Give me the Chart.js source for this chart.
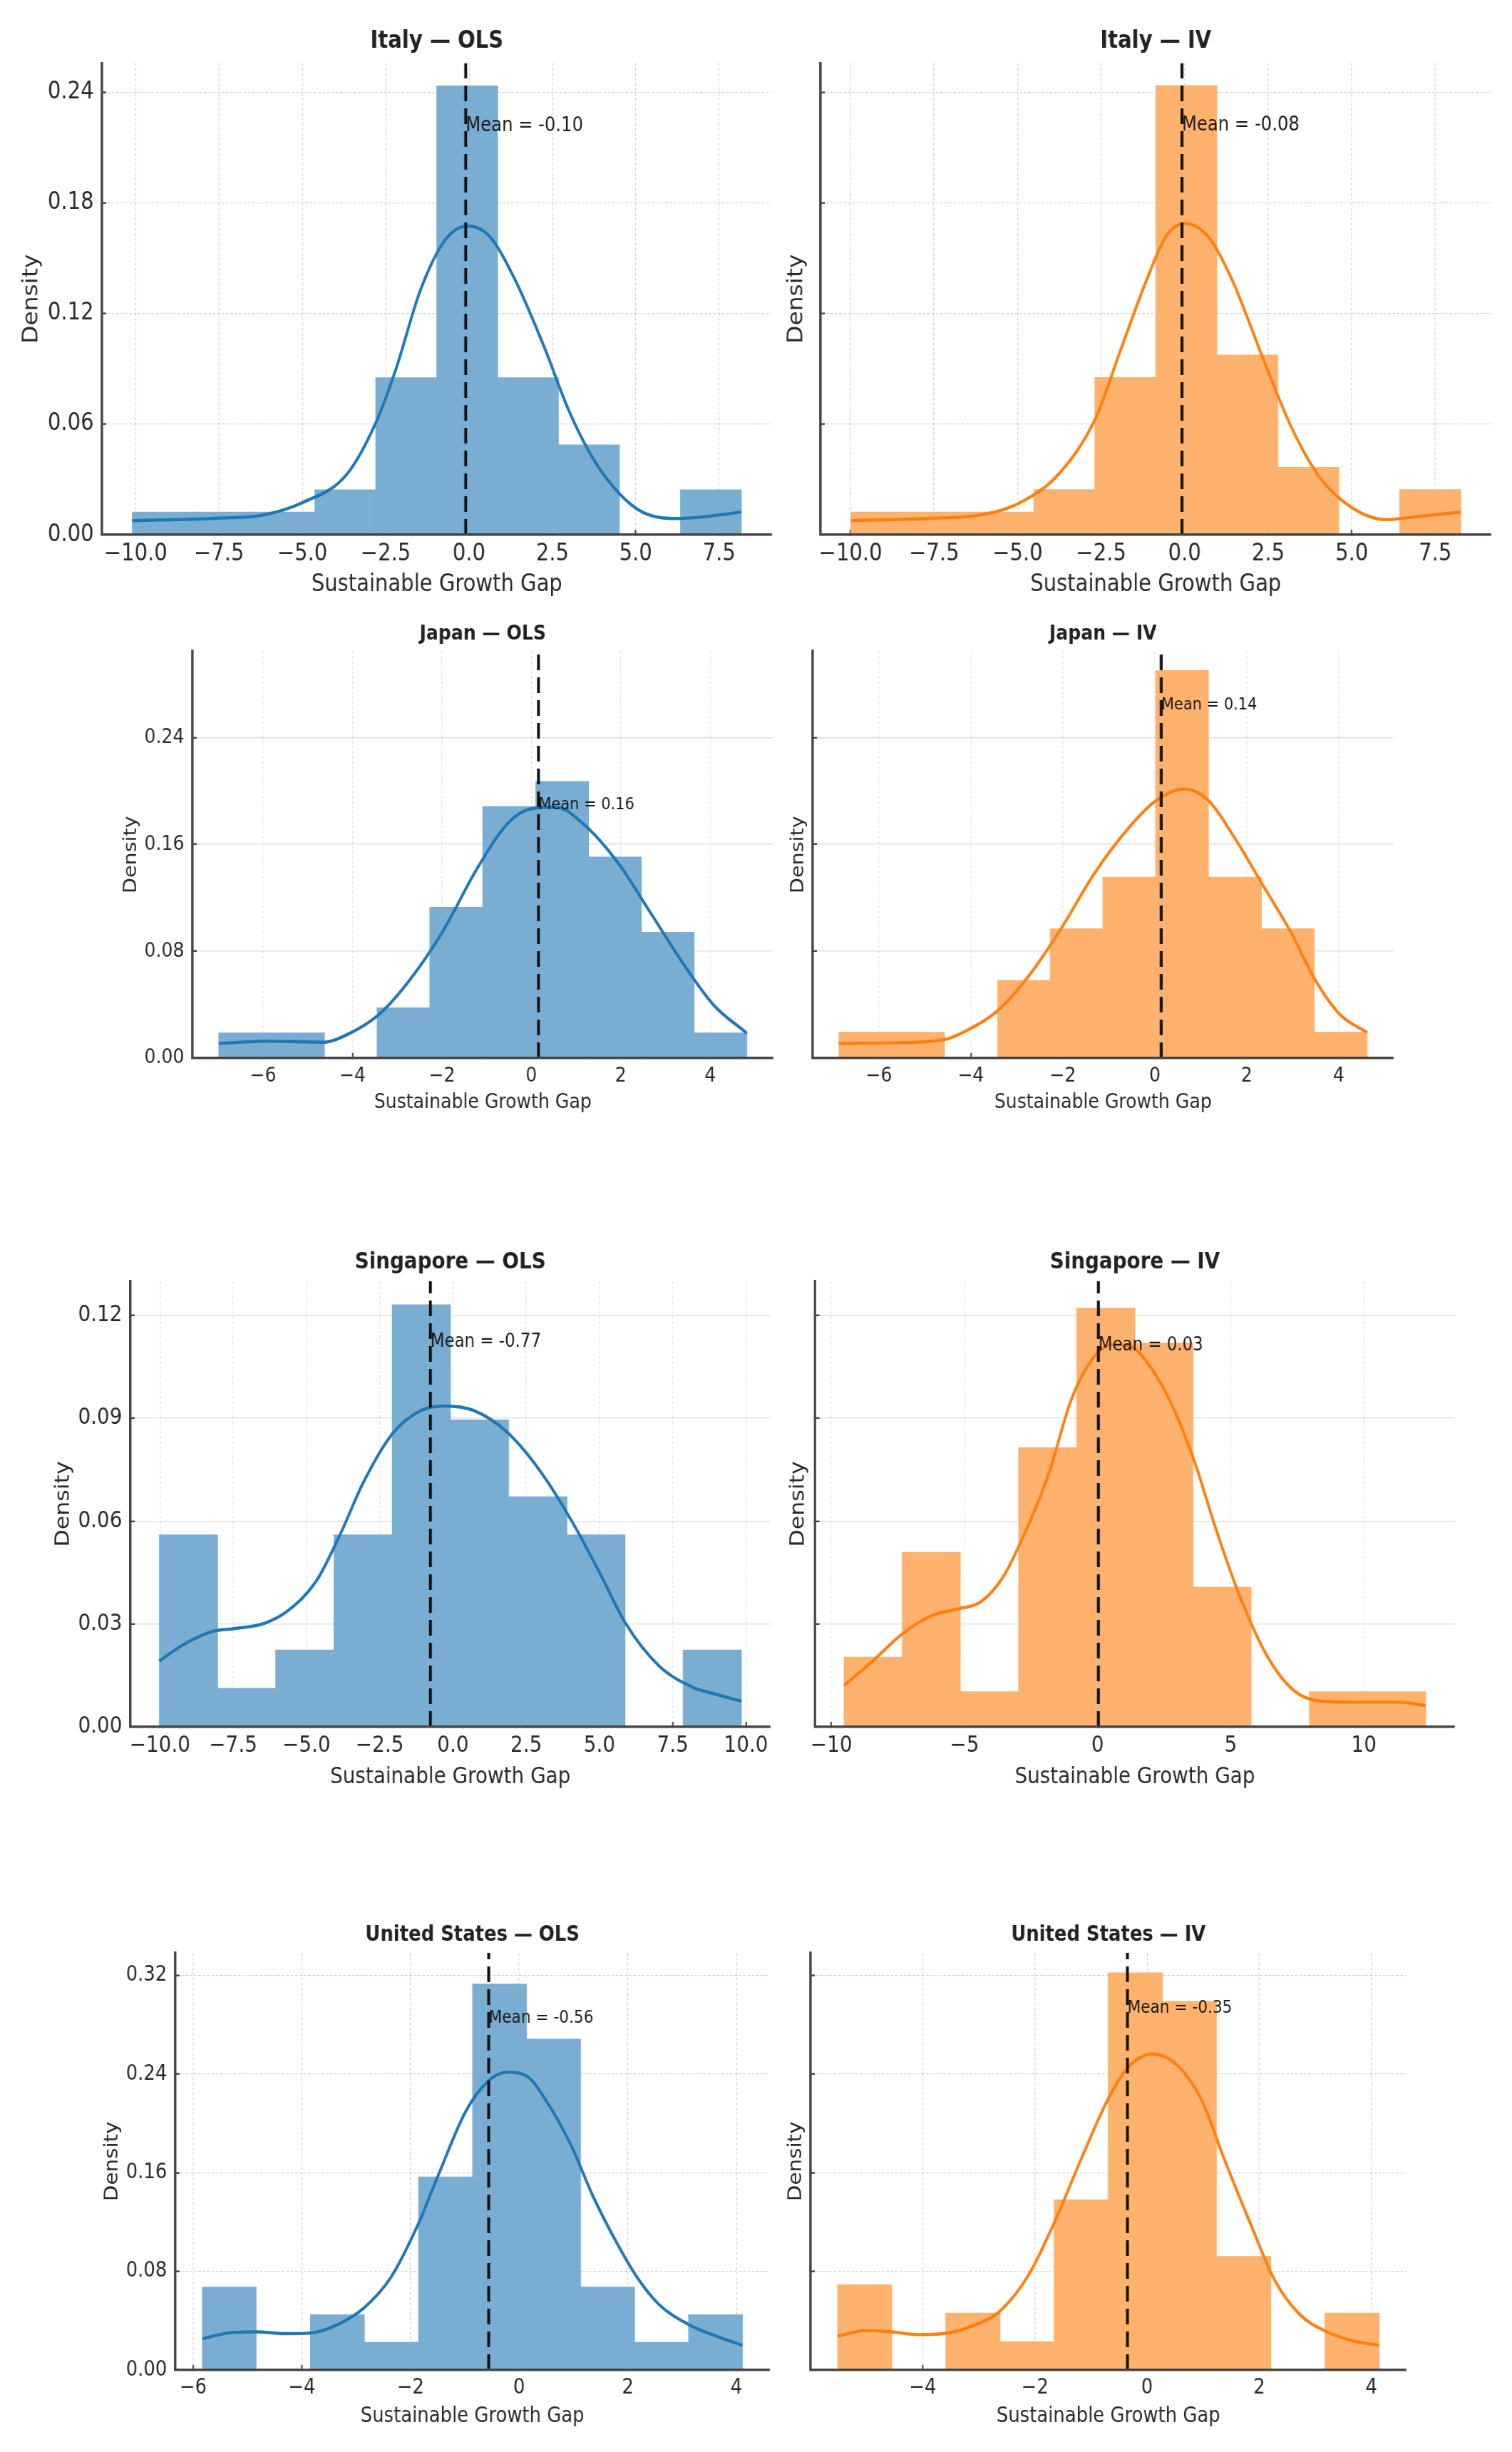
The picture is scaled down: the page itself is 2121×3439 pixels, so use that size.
<!DOCTYPE html>
<html>
<head>
<meta charset="utf-8">
<title>Sustainable Growth Gap distributions</title>
<script src="https://cdn.jsdelivr.net/npm/chart.js@4.4.1/dist/chart.umd.min.js"></script>
<style>
  html, body { margin: 0; padding: 0; background: #fff; }
  #page { position: relative; width: 2121px; height: 3439px; overflow: hidden; background: #fff; }
  #page canvas { position: absolute; }
</style>
</head>
<body>
<div id="page"></div>
<script>
/* ---------- data: histogram bin edges / densities, KDE ---------- */
const italyOlsEdges = [-10.10, -8.27, -6.45, -4.62, -2.80, -0.97, 0.86, 2.68, 4.51, 6.34, 8.17];
const italyOlsDensity = [0.0122, 0.0122, 0.0122, 0.0243, 0.0851, 0.2433, 0.0851, 0.0487, 0, 0.0243];
const italyOlsKdeX = [-10.10, -7.50, -6.20, -5.00, -3.67, -2.78, -2.19, -1.45, -0.71, -0.04, 0.62, 1.36, 2.25, 2.99, 3.73, 4.50, 5.20, 6.24, 6.98, 8.17];
const italyOlsKdeY = [0.0076, 0.0090, 0.0106, 0.0174, 0.0327, 0.0614, 0.0900, 0.1330, 0.1600, 0.1674, 0.1617, 0.1390, 0.1020, 0.0675, 0.0410, 0.0225, 0.0123, 0.0088, 0.0096, 0.0123];
const italyOlsMean = -0.10;

const italyIvEdges = [-9.99, -8.16, -6.34, -4.51, -2.69, -0.86, 0.96, 2.79, 4.61, 6.44, 8.26];
const italyIvDensity = [0.0122, 0.0122, 0.0122, 0.0244, 0.0852, 0.2435, 0.0974, 0.0365, 0, 0.0244];
const italyIvKdeX = [-9.99, -7.50, -6.16, -4.97, -3.78, -2.66, -1.96, -1.12, -0.56, 0.00, 0.70, 1.40, 2.38, 3.22, 4.06, 5.04, 6.02, 7.14, 8.26];
const italyIvKdeY = [0.0076, 0.0090, 0.0106, 0.0170, 0.0327, 0.0634, 0.0980, 0.1390, 0.1617, 0.1688, 0.1617, 0.1390, 0.0940, 0.0573, 0.0307, 0.0143, 0.0082, 0.0102, 0.0123];
const italyIvMean = -0.08;

const japanOlsEdges = [-6.99, -5.81, -4.63, -3.45, -2.27, -1.09, 0.10, 1.28, 2.46, 3.64, 4.82];
const japanOlsDensity = [0.0188, 0.0188, 0, 0.0376, 0.1129, 0.1882, 0.2070, 0.1505, 0.0941, 0.0188];
const japanOlsKdeX = [-6.99, -5.88, -4.64, -4.13, -3.44, -2.76, -1.98, -1.20, -0.52, 0.00, 0.56, 1.14, 1.92, 2.70, 3.39, 4.07, 4.82];
const japanOlsKdeY = [0.0110, 0.0126, 0.0119, 0.0174, 0.0317, 0.0567, 0.0949, 0.1426, 0.1760, 0.1867, 0.1879, 0.1760, 0.1470, 0.1070, 0.0710, 0.0400, 0.0186];
const japanOlsMean = 0.16;

const japanIvEdges = [-6.87, -5.72, -4.57, -3.42, -2.27, -1.13, 0.02, 1.17, 2.32, 3.47, 4.62];
const japanIvDensity = [0.0193, 0.0193, 0, 0.0580, 0.0967, 0.1354, 0.2901, 0.1354, 0.0967, 0.0193];
const japanIvKdeX = [-6.87, -5.72, -4.59, -4.07, -3.42, -2.74, -2.03, -1.32, -0.60, 0.03, 0.64, 1.17, 1.71, 2.33, 2.95, 3.48, 4.02, 4.62];
const japanIvKdeY = [0.0110, 0.0114, 0.0138, 0.0210, 0.0353, 0.0615, 0.0973, 0.1378, 0.1710, 0.1927, 0.2015, 0.1927, 0.1664, 0.1307, 0.0949, 0.0591, 0.0329, 0.0191];
const japanIvMean = 0.14;

const singOlsEdges = [-10.02, -8.03, -6.05, -4.06, -2.07, -0.09, 1.90, 3.89, 5.87, 7.86, 9.84];
const singOlsDensity = [0.0560, 0.0112, 0.0224, 0.0560, 0.1231, 0.0895, 0.0671, 0.0560, 0, 0.0224];
const singOlsKdeX = [-10.02, -9.20, -8.23, -7.42, -6.44, -5.63, -4.66, -3.85, -3.04, -2.06, -1.09, -0.28, 0.70, 1.83, 2.97, 4.11, 5.08, 5.89, 7.03, 8.17, 8.98, 9.84];
const singOlsKdeY = [0.0192, 0.0240, 0.0278, 0.0287, 0.0302, 0.0339, 0.0426, 0.0561, 0.0716, 0.0856, 0.0923, 0.0936, 0.0923, 0.0861, 0.0747, 0.0592, 0.0437, 0.0302, 0.0178, 0.0116, 0.0095, 0.0075];
const singOlsMean = -0.77;

const singIvEdges = [-9.52, -7.34, -5.15, -2.97, -0.78, 1.40, 3.58, 5.77, 7.95, 10.14, 12.32];
const singIvDensity = [0.0203, 0.0509, 0.0102, 0.0814, 0.1221, 0.1119, 0.0407, 0, 0.0102, 0.0102];
const singIvKdeX = [-9.52, -8.50, -7.34, -6.28, -5.26, -4.40, -3.55, -2.70, -1.84, -0.99, -0.14, 0.55, 1.23, 1.91, 2.76, 3.62, 4.47, 5.32, 6.35, 7.37, 8.40, 10.10, 11.30, 12.32];
const singIvKdeY = [0.0121, 0.0188, 0.0271, 0.0323, 0.0344, 0.0364, 0.0437, 0.0571, 0.0737, 0.0954, 0.1079, 0.1115, 0.1110, 0.1058, 0.0944, 0.0778, 0.0571, 0.0385, 0.0209, 0.0106, 0.0075, 0.0072, 0.0072, 0.0062];
const singIvMean = 0.03;

const usOlsEdges = [-5.83, -4.84, -3.84, -2.85, -1.85, -0.86, 0.14, 1.13, 2.13, 3.12, 4.11];
const usOlsDensity = [0.0671, 0, 0.0447, 0.0224, 0.1565, 0.3130, 0.2683, 0.0671, 0.0224, 0.0447];
const usOlsKdeX = [-5.83, -5.36, -4.83, -4.31, -3.84, -3.34, -2.85, -2.36, -1.88, -1.47, -0.99, -0.58, -0.22, 0.15, 0.55, 0.96, 1.36, 1.77, 2.17, 2.57, 3.12, 3.63, 4.11];
const usOlsKdeY = [0.0254, 0.0300, 0.0309, 0.0295, 0.0300, 0.0369, 0.0506, 0.0752, 0.1162, 0.1600, 0.2092, 0.2339, 0.2415, 0.2380, 0.2147, 0.1819, 0.1409, 0.1053, 0.0752, 0.0533, 0.0369, 0.0274, 0.0200];
const usOlsMean = -0.56;

const usIvEdges = [-5.52, -4.55, -3.59, -2.62, -1.66, -0.69, 0.27, 1.24, 2.21, 3.17, 4.14];
const usIvDensity = [0.0690, 0, 0.0460, 0.0230, 0.1380, 0.3220, 0.2990, 0.0920, 0, 0.0460];
const usIvKdeX = [-5.52, -5.02, -4.55, -4.07, -3.58, -3.12, -2.62, -2.10, -1.66, -1.15, -0.69, -0.35, 0.09, 0.53, 0.96, 1.40, 1.84, 2.28, 2.72, 3.18, 3.66, 4.14];
const usIvKdeY = [0.0274, 0.0320, 0.0309, 0.0287, 0.0298, 0.0356, 0.0479, 0.0780, 0.1190, 0.1737, 0.2202, 0.2448, 0.2563, 0.2475, 0.2202, 0.1682, 0.1190, 0.0725, 0.0451, 0.0315, 0.0238, 0.0200];
const usIvMean = -0.35;

/* ---------- axes: ticks and limits ---------- */
const italyXTicks = [-10, -7.5, -5, -2.5, 0, 2.5, 5, 7.5];
const japanXTicks = [-6, -4, -2, 0, 2, 4];
const singOlsXTicks = [-10, -7.5, -5, -2.5, 0, 2.5, 5, 7.5, 10];
const singIvXTicks = [-10, -5, 0, 5, 10];
const usOlsXTicks = [-6, -4, -2, 0, 2, 4];
const usIvXTicks = [-4, -2, 0, 2, 4];

const italyYTicks = [0, 0.06, 0.12, 0.18, 0.24];
const japanYTicks = [0, 0.08, 0.16, 0.24];
const singYTicks = [0, 0.03, 0.06, 0.09, 0.12];
const usYTicks = [0, 0.08, 0.16, 0.24, 0.32];

const rowYMax = [0.2557, 0.3046, 0.1300, 0.3385];
const italyOlsXRange = [-11.01, 9.08];
const italyIvXRange = [-10.90, 9.17];
const japanOlsXRange = [-7.58, 5.41];
const japanIvXRange = [-7.44, 5.19];
const singOlsXRange = [-11.01, 10.83];
const singIvXRange = [-10.61, 13.41];
const usOlsXRange = [-6.33, 4.61];
const usIvXRange = [-6.00, 4.62];

/* ---------- layout (page pixels) ---------- */
const K = 0.88;            // horizontal squeeze of the original picture
const RIGHT_PAD = 30;
const FONT = '"DejaVu Sans", "Liberation Sans", sans-serif';
const rowFont = [33, 28.6, 31.6, 29.4];
const rowMeanFont = [27.6, 23.8, 26, 24.6];
const rowTitlePad = [10, 7, 7, 6.4];
const rowAxisH = [94, 84, 94, 87];
const rowPlotY = [[89, 750], [913, 1484], [1797, 2422], [2739, 3324]];
const plotX = [[[143, 1083], [1151, 2092]], [[270, 1085], [1140, 1955]], [[183, 1081], [1143, 2041]], [[246, 1079], [1137, 1972]]];
const axisW = [[133, 59], [117, 42], [127, 47], [119, 42]];
const rowSolidY = [false, true, true, false];

const panels = [
    { title: "Italy — OLS", edges: italyOlsEdges, dens: italyOlsDensity, kx: italyOlsKdeX, ky: italyOlsKdeY, mean: italyOlsMean, xr: italyOlsXRange, xt: italyXTicks, xd: 1, yt: italyYTicks, row: 0, side: 0 },
    { title: "Italy — IV", edges: italyIvEdges, dens: italyIvDensity, kx: italyIvKdeX, ky: italyIvKdeY, mean: italyIvMean, xr: italyIvXRange, xt: italyXTicks, xd: 1, yt: italyYTicks, row: 0, side: 1 },
    { title: "Japan — OLS", edges: japanOlsEdges, dens: japanOlsDensity, kx: japanOlsKdeX, ky: japanOlsKdeY, mean: japanOlsMean, xr: japanOlsXRange, xt: japanXTicks, xd: 0, yt: japanYTicks, row: 1, side: 0 },
    { title: "Japan — IV", edges: japanIvEdges, dens: japanIvDensity, kx: japanIvKdeX, ky: japanIvKdeY, mean: japanIvMean, xr: japanIvXRange, xt: japanXTicks, xd: 0, yt: japanYTicks, row: 1, side: 1 },
    { title: "Singapore — OLS", edges: singOlsEdges, dens: singOlsDensity, kx: singOlsKdeX, ky: singOlsKdeY, mean: singOlsMean, xr: singOlsXRange, xt: singOlsXTicks, xd: 1, yt: singYTicks, row: 2, side: 0 },
    { title: "Singapore — IV", edges: singIvEdges, dens: singIvDensity, kx: singIvKdeX, ky: singIvKdeY, mean: singIvMean, xr: singIvXRange, xt: singIvXTicks, xd: 0, yt: singYTicks, row: 2, side: 1 },
    { title: "United States — OLS", edges: usOlsEdges, dens: usOlsDensity, kx: usOlsKdeX, ky: usOlsKdeY, mean: usOlsMean, xr: usOlsXRange, xt: usOlsXTicks, xd: 0, yt: usYTicks, row: 3, side: 0 },
    { title: "United States — IV", edges: usIvEdges, dens: usIvDensity, kx: usIvKdeX, ky: usIvKdeY, mean: usIvMean, xr: usIvXRange, xt: usIvXTicks, xd: 0, yt: usYTicks, row: 3, side: 1 }
];

/* ---------- mean label ---------- */
const meanLabelPlugin = {
    id: "meanLabel",
    afterDatasetsDraw(chart, args, opts) {
        const { ctx, scales } = chart;
        const x = scales.x.getPixelForValue(opts.mean);
        const y = scales.y.getPixelForValue(opts.y);
        ctx.save();
        ctx.font = opts.size + "px " + FONT;
        ctx.fillStyle = "#1a1a1a";
        ctx.textAlign = "left";
        ctx.textBaseline = "alphabetic";
        ctx.fillText(opts.text, x, y);
        ctx.restore();
    }
};

function fmtX(v, d) {
    return (v < 0 ? "\u2212" : "") + Math.abs(v).toFixed(d);
}

function drawPanel(p) {
    const f = rowFont[p.row];
    const [left, right] = plotX[p.row][p.side];
    const [top, bottom] = rowPlotY[p.row];
    const yw = axisW[p.row][p.side];
    const xh = rowAxisH[p.row];
    const titleH = 4 + 1.2 * f + rowTitlePad[p.row];
    const cw = Math.round(yw + (right - left) / K + RIGHT_PAD);
    const ch = Math.round(titleH + (bottom - top) + xh);

    const canvas = document.createElement("canvas");
    canvas.width = cw;
    canvas.height = ch;
    canvas.style.width = (cw * K) + "px";
    canvas.style.height = ch + "px";
    canvas.style.left = (left - yw * K) + "px";
    canvas.style.top = (top - titleH) + "px";
    document.getElementById("page").appendChild(canvas);

    const ols = p.side === 0;
    const lineColor = ols ? "#1f77b4" : "#ff7f0e";
    // matplotlib alpha 0.6 over white, kept opaque so neighbouring bars join without seams
    const barColor = ols ? "#79add2" : "#ffb26e";
    const ymax = rowYMax[p.row];

    const bars = p.dens.map((d, i) => ({ x: (p.edges[i] + p.edges[i + 1]) / 2, y: d }));
    const kde = p.kx.map((x, i) => ({ x: x, y: p.ky[i] }));
    const meanLine = [{ x: p.mean, y: 0 }, { x: p.mean, y: ymax }];

    const solidY = rowSolidY[p.row];
    const gridCol = solidY ? "rgba(0,0,0,0.12)" : "rgba(0,0,0,0.2)";

    new Chart(canvas, {
        type: "bar",
        data: {
            datasets: [
                { type: "line", data: meanLine, borderColor: "#111", borderWidth: 4.6, borderDash: [22, 10], pointRadius: 0, order: 0 },
                { type: "line", data: kde, borderColor: lineColor, borderWidth: 4.4, pointRadius: 0, cubicInterpolationMode: "monotone", order: 1 },
                { type: "bar", data: bars, backgroundColor: barColor, borderWidth: 0, barPercentage: 1, categoryPercentage: 1, inflateAmount: 0.6, order: 2 }
            ]
        },
        options: {
            responsive: false,
            animation: false,
            events: [],
            layout: { padding: { left: 0, top: 0, right: RIGHT_PAD, bottom: 0 }, autoPadding: false },
            plugins: {
                legend: { display: false },
                tooltip: { enabled: false },
                title: {
                    display: true, text: p.title, fullSize: false, color: "#222",
                    font: { family: FONT, size: f, weight: "bold", lineHeight: 1.2 },
                    padding: { top: 4, bottom: rowTitlePad[p.row] }
                },
                meanLabel: {
                    mean: p.mean,
                    y: 0.9 * Math.max(...p.dens),
                    text: "Mean = " + p.mean.toFixed(2),
                    size: rowMeanFont[p.row]
                }
            },
            scales: {
                x: {
                    type: "linear", position: "bottom",
                    min: p.xr[0], max: p.xr[1], offset: false,
                    afterBuildTicks: s => { s.ticks = p.xt.map(v => ({ value: v })); },
                    afterFit: s => { s.height = xh; },
                    ticks: {
                        autoSkip: false, maxRotation: 0, minRotation: 0, padding: 15, color: "#2a2a2a",
                        font: { family: FONT, size: f },
                        callback: v => fmtX(v, p.xd)
                    },
                    grid: { offset: false, color: gridCol, lineWidth: 1.3, tickLength: -7, tickColor: "#444", tickWidth: 2.4 },
                    border: { color: "#444", width: 3.4, dash: [4, 3], z: 1 },
                    title: {
                        display: true, text: "Sustainable Growth Gap", color: "#2a2a2a",
                        font: { family: FONT, size: f, lineHeight: 1.2 },
                        padding: { top: 0, bottom: 4 }
                    }
                },
                y: {
                    type: "linear", position: "left",
                    min: 0, max: ymax,
                    afterBuildTicks: s => { s.ticks = p.yt.map(v => ({ value: v })); },
                    afterFit: s => { s.width = yw; },
                    ticks: {
                        display: ols, padding: 20, color: "#2a2a2a",
                        font: { family: FONT, size: f },
                        callback: v => v.toFixed(2)
                    },
                    grid: { color: gridCol, lineWidth: solidY ? 1.6 : 1.3, tickLength: -7, tickColor: "#444", tickWidth: 2.4 },
                    border: { color: "#444", width: 3.8, dash: solidY ? [] : [4, 3], z: 1 },
                    title: {
                        display: true, text: "Density", color: "#2a2a2a",
                        font: { family: FONT, size: f, lineHeight: 1.2 },
                        padding: { top: 2, bottom: 0 }
                    }
                }
            }
        },
        plugins: [meanLabelPlugin]
    });
}

panels.forEach(drawPanel);
</script>
</body>
</html>
